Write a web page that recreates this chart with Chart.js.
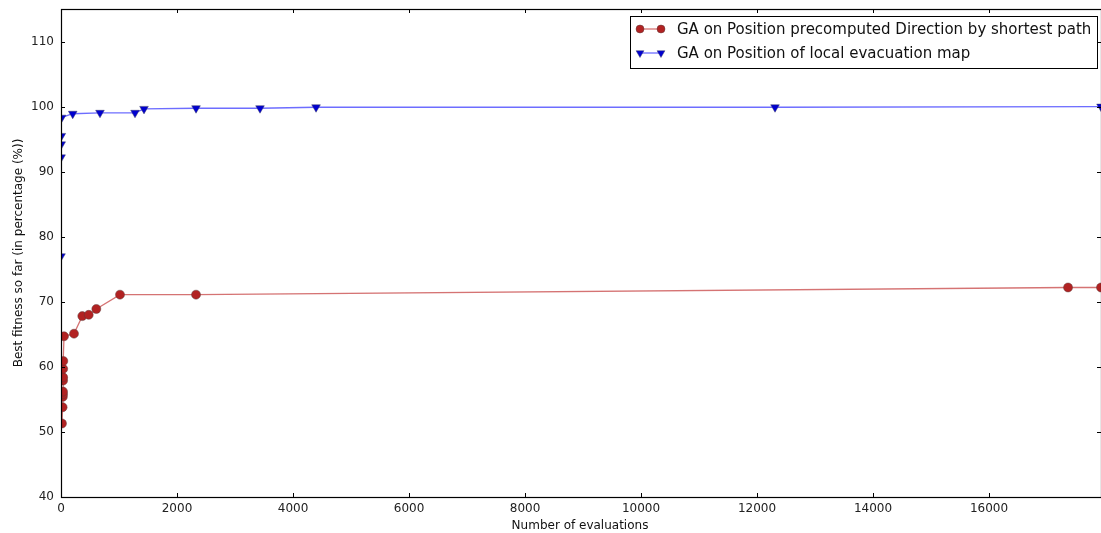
<!DOCTYPE html>
<html>
<head>
<meta charset="utf-8">
<script src="https://cdn.jsdelivr.net/npm/chart.js@4/dist/chart.umd.min.js"></script>
<style>
html,body{margin:0;padding:0;background:#fff;}
#wrap{width:1101px;height:533px;}
</style>
</head>
<body>
<div id="wrap"><canvas id="c" width="1101" height="533"></canvas></div>
<script>
// Data
const seriesNames = [
  "GA on Position precomputed Direction by shortest path",
  "GA on Position of local evacuation map"
];
const shortestPathX = [17, 28, 32, 34, 35, 36, 37, 38, 40, 52, 224, 367, 478, 609, 1017, 2328, 17362, 17930];
const shortestPathY = [51.3, 53.8, 55.4, 55.8, 56.2, 57.9, 58.4, 59.7, 60.9, 64.7, 65.1, 67.8, 68.0, 68.9, 71.1, 71.1, 72.2, 72.2];
const evacMapX = [0, 2, 4, 6, 10, 202, 672, 1276, 1431, 2328, 3431, 4397, 12310, 17930];
const evacMapY = [77.0, 92.2, 94.2, 95.5, 98.3, 98.9, 99.05, 99.05, 99.65, 99.75, 99.75, 99.9, 99.9, 100.0];
const xTicks = [0, 2000, 4000, 6000, 8000, 10000, 12000, 14000, 16000];
const yTicks = [40, 50, 60, 70, 80, 90, 100, 110];
const xTitle = "Number of evaluations";
const yTitle = "Best fitness so far (in percentage (%))";

const toPts = (xs, ys) => xs.map((x, i) => ({x: x, y: ys[i]}));
const FONT = "'DejaVu Sans', sans-serif";

const frame = {
  id: 'frame',
  afterDatasetsDraw(chart) {
    const ctx = chart.ctx, a = chart.chartArea;
    const xs = chart.scales.x, ys = chart.scales.y;
    ctx.save();
    ctx.strokeStyle = '#000';
    ctx.lineWidth = 1;
    ctx.beginPath();
    xTicks.forEach(v => {
      const p = Math.round(xs.getPixelForValue(v)) + 0.5;
      ctx.moveTo(p, a.bottom); ctx.lineTo(p, a.bottom - 4);
      ctx.moveTo(p, a.top); ctx.lineTo(p, a.top + 4);
    });
    yTicks.forEach(v => {
      const p = Math.round(ys.getPixelForValue(v)) + 0.5;
      ctx.moveTo(a.left, p); ctx.lineTo(a.left + 4, p);
      ctx.moveTo(a.right, p); ctx.lineTo(a.right - 4, p);
    });
    ctx.stroke();
    ctx.lineWidth = 1.2;
    ctx.strokeRect(Math.round(a.left) + 0.5, Math.round(a.top) + 0.5, Math.round(a.right - a.left), Math.round(a.bottom - a.top));
    // axis titles
    ctx.fillStyle = '#111';
    ctx.font = '12px ' + FONT;
    ctx.textAlign = 'center';
    ctx.textBaseline = 'middle';
    ctx.fillText(xTitle, (a.left + a.right) / 2 - 1, 526);
    ctx.save();
    ctx.translate(19, (a.top + a.bottom) / 2);
    ctx.rotate(-Math.PI / 2);
    ctx.fillText(yTitle, 0, 0);
    ctx.restore();
    // legend
    const bx = 630.5, by = 16.5, bw = 467, bh = 52;
    ctx.fillStyle = '#fff';
    ctx.fillRect(bx, by, bw, bh);
    ctx.lineWidth = 1;
    ctx.strokeStyle = '#000';
    ctx.strokeRect(bx, by, bw, bh);
    chart.data.datasets.forEach((ds, i) => {
      const yy = 29 + i * 24;
      ctx.strokeStyle = ds.borderColor;
      ctx.lineWidth = 1.3;
      ctx.beginPath(); ctx.moveTo(640, yy); ctx.lineTo(661, yy); ctx.stroke();
      [640, 661].forEach(px => {
        ctx.fillStyle = ds.pointBackgroundColor;
        ctx.strokeStyle = ds.pointBorderColor;
        ctx.lineWidth = 0.6;
        Chart.helpers.drawPoint(ctx, {
          pointStyle: ds.pointStyle, rotation: ds.pointRotation || 0,
          radius: ds.pointRadius - 0.5, borderWidth: 0.6
        }, px, yy);
      });
      ctx.fillStyle = '#111';
      ctx.font = '15px ' + FONT;
      ctx.textAlign = 'left';
      ctx.textBaseline = 'middle';
      ctx.fillText(ds.label, 677, yy + 1);
    });
    ctx.restore();
  }
};

new Chart(document.getElementById('c'), {
  type: 'scatter',
  data: {
    datasets: [
      {
        label: seriesNames[0],
        data: toPts(shortestPathX, shortestPathY),
        showLine: true,
        borderColor: 'rgba(190,40,40,0.65)',
        borderWidth: 1.3,
        pointStyle: 'circle',
        pointRadius: 4.5,
        pointBackgroundColor: '#b22222',
        pointBorderColor: 'rgba(90,60,60,0.8)',
        pointBorderWidth: 0.6,
        clip: 0,
        order: 2
      },
      {
        label: seriesNames[1],
        data: toPts(evacMapX, evacMapY),
        showLine: true,
        borderColor: 'rgba(30,30,255,0.65)',
        borderWidth: 1.3,
        pointStyle: 'triangle',
        pointRotation: 180,
        pointRadius: 5,
        pointBackgroundColor: '#0000d0',
        pointBorderColor: 'rgba(60,60,100,0.8)',
        pointBorderWidth: 0.6,
        clip: 0,
        order: 1
      }
    ]
  },
  options: {
    responsive: false,
    animation: false,
    devicePixelRatio: 1,
    layout: {autoPadding: false, padding: {top: 9, right: 0, bottom: 0, left: 0}},
    plugins: {legend: {display: false}, tooltip: {enabled: false}},
    scales: {
      x: {
        type: 'linear', min: 0, max: 17930,
        grid: {display: false, drawTicks: false},
        border: {display: false},
        ticks: {color: '#222', font: {family: FONT, size: 12}, padding: 5, maxRotation: 0,
                callback: v => String(v)},
        afterBuildTicks: s => { s.ticks = xTicks.map(v => ({value: v})); },
        afterFit: s => { s.height = 36; s.paddingLeft = 0; s.paddingRight = 0; }
      },
      y: {
        type: 'linear', min: 40, max: 115,
        grid: {display: false, drawTicks: false},
        border: {display: false},
        ticks: {color: '#222', font: {family: FONT, size: 12}, padding: 7,
                callback: v => String(v)},
        afterBuildTicks: s => { s.ticks = yTicks.map(v => ({value: v})); },
        afterFit: s => { s.width = 61; s.paddingTop = 0; s.paddingBottom = 0; }
      }
    }
  },
  plugins: [frame]
});
</script>
</body>
</html>
